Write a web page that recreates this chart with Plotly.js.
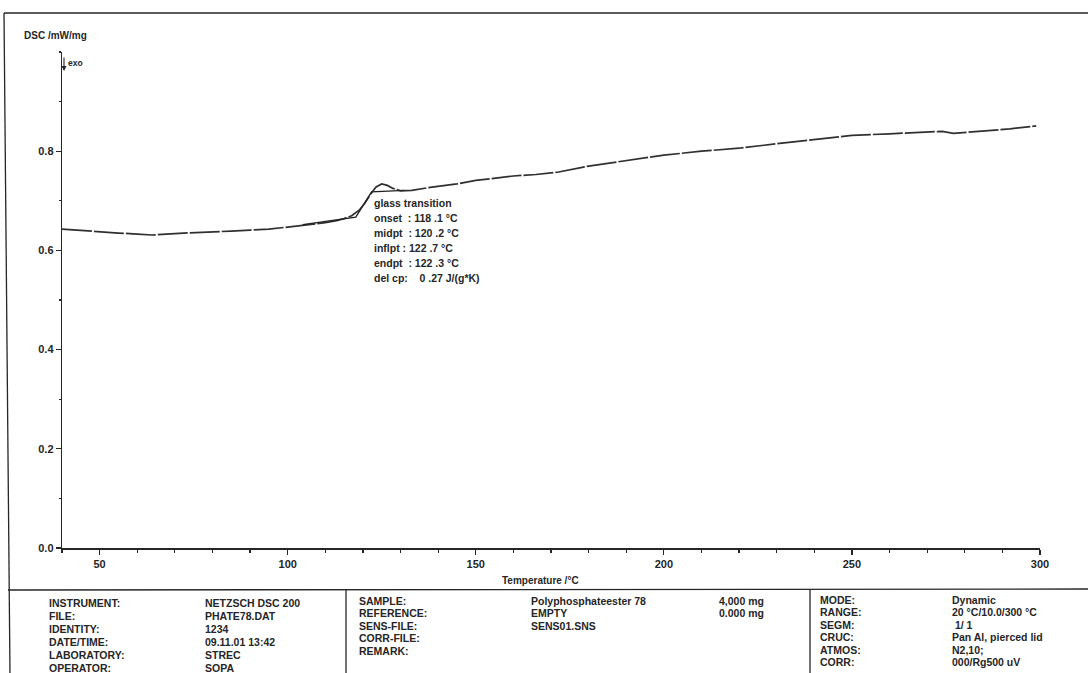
<!DOCTYPE html>
<html>
<head>
<meta charset="utf-8">
<script src="https://cdn.plot.ly/plotly-3.0.1.min.js"></script>
<style>html,body{margin:0;padding:0;background:#fff;}#chart{width:1088px;height:673px;}</style>
</head>
<body>
<div id="chart"></div>
<script>
// ---- data ----
const tempC = [40, 45, 50, 55, 60, 64, 70, 77, 85, 90, 95, 100, 105, 110, 113, 115, 117, 119, 120.5, 122, 123.5, 125, 126.5, 128, 130, 133, 137, 141, 145, 150, 155, 160, 166, 172, 180, 190, 200, 210, 220, 230, 240, 250, 260, 270, 274, 277, 285, 292, 299];
const dscValue = [0.643, 0.640, 0.637, 0.635, 0.633, 0.631, 0.634, 0.637, 0.639, 0.641, 0.643, 0.647, 0.651, 0.656, 0.660, 0.664, 0.670, 0.681, 0.695, 0.713, 0.728, 0.734, 0.731, 0.725, 0.720, 0.721, 0.726, 0.730, 0.734, 0.741, 0.745, 0.750, 0.753, 0.758, 0.770, 0.781, 0.792, 0.800, 0.806, 0.815, 0.824, 0.832, 0.835, 0.838, 0.840, 0.836, 0.840, 0.845, 0.851];
const tangentT = [104, 118.1, 122.3, 131];
const tangentV = [0.652, 0.667, 0.718, 0.721];
const xTickVals = [50, 100, 150, 200, 250, 300];
const yTickVals = [0.0, 0.2, 0.4, 0.6, 0.8];
const yTickText = ['0.0', '0.2', '0.4', '0.6', '0.8'];
const glassLines = ['glass transition', 'onset\u00A0\u00A0: 118 .1 °C', 'midpt\u00A0\u00A0: 120 .2 °C', 'inflpt : 122 .7 °C', 'endpt\u00A0\u00A0: 122 .3 °C', 'del cp:\u00A0\u00A0\u00A0 0 .27 J/(g*K)'];
const col1Labels = ['INSTRUMENT:', 'FILE:', 'IDENTITY:', 'DATE/TIME:', 'LABORATORY:', 'OPERATOR:'];
const col1Values = ['NETZSCH DSC 200', 'PHATE78.DAT', '1234', '09.11.01 13:42', 'STREC', 'SOPA'];
const col2Labels = ['SAMPLE:', 'REFERENCE:', 'SENS-FILE:', 'CORR-FILE:', 'REMARK:'];
const col2Values = ['Polyphosphateester 78', 'EMPTY', 'SENS01.SNS', '', ''];
const col2Mass = ['4,000 mg', '0.000 mg'];
const col3Labels = ['MODE:', 'RANGE:', 'SEGM:', 'CRUC:', 'ATMOS:', 'CORR:'];
const col3Values = ['Dynamic', '20 °C/10.0/300 °C', ' 1/ 1', 'Pan Al, pierced lid', 'N2,10;', '000/Rg500 uV'];

// ---- layout helpers (pixel -> paper) ----
const W = 1088, H = 673, L = 62, R = 48, T = 52, B = 125;
const pw = W - L - R, ph = H - T - B;
const px = x => (x - L) / pw;
const py = y => (H - B - y) / ph;
const ink = '#262626';
const FF = 'Liberation Sans, Arial, sans-serif';
const fnt = (s) => ({family: FF, size: s, color: ink, weight: 'bold'});

const annotations = [];
function txt(x, y, s, size, anchor) {
  annotations.push({xref: 'paper', yref: 'paper', x: px(x), y: py(y), text: s, showarrow: false,
    xanchor: anchor || 'left', yanchor: 'middle', font: fnt(size)});
}
txt(22, 35, 'DSC /mW/mg', 10);
txt(66, 63, 'exo', 8.5);
annotations.push({xref: 'paper', yref: 'paper', x: px(64), y: py(71), ax: 0, ay: -15, showarrow: true,
  arrowhead: 2, arrowsize: 0.9, arrowwidth: 1.1, arrowcolor: ink, text: ''});
txt(540, 580, 'Temperature /°C', 10, 'center');
glassLines.forEach((s, i) => txt(372, 203 + i * 15, s, 10.5));
const row1 = i => 603 + i * 12.9;
const row2 = i => 601 + i * 12.4;
const row3 = i => 600 + i * 12.4;
col1Labels.forEach((s, i) => txt(47, row1(i), s, 10.5));
col1Values.forEach((s, i) => txt(203, row1(i), s, 10.5));
col2Labels.forEach((s, i) => txt(357, row2(i), s, 10.5));
col2Values.forEach((s, i) => { if (s) txt(529, row2(i), s, 10.5); });
col2Mass.forEach((s, i) => txt(717, row2(i), s, 10.5));
col3Labels.forEach((s, i) => txt(818, row3(i), s, 10.5));
col3Values.forEach((s, i) => txt(950, row3(i), s, 10.5));

const line = (x0, y0, x1, y1, w) => ({type: 'line', xref: 'paper', yref: 'paper',
  x0: px(x0), y0: py(y0), x1: px(x1), y1: py(y1), line: {color: ink, width: w || 1.3}});
const shapes = [
  line(4, 13, 1090, 13),
  line(4, 13, 10, 675),
  line(8, 590, 1090, 589),
  line(346, 590, 346, 675),
  line(810, 590, 810, 675)
];

const traces = [
  {x: tempC, y: dscValue, type: 'scatter', mode: 'lines', line: {color: '#303030', width: 1.7, dash: '30px,2px'}, hoverinfo: 'skip'},
  {x: tangentT, y: tangentV, type: 'scatter', mode: 'lines', line: {color: '#222', width: 1.3}, hoverinfo: 'skip'}
];

const layout = {
  width: W, height: H, margin: {l: L, r: R, t: T, b: B},
  paper_bgcolor: '#fff', plot_bgcolor: '#fff', showlegend: false,
  xaxis: {range: [40, 300], tickvals: xTickVals, ticks: 'outside', ticklen: 5, tickwidth: 1.2, tickcolor: ink,
    showline: true, linecolor: ink, linewidth: 1.6, showgrid: false, zeroline: false, tickfont: fnt(11),
    minor: {dtick: 10, tick0: 40, ticks: 'outside', ticklen: 3, tickcolor: ink, showgrid: false}},
  yaxis: {range: [0, 1.0], tickvals: yTickVals, ticktext: yTickText, ticks: 'outside', ticklen: 5, tickwidth: 1.2, tickcolor: ink,
    showline: true, linecolor: ink, linewidth: 1.3, showgrid: false, zeroline: false, tickfont: fnt(11),
    minor: {dtick: 0.1, tick0: 0, ticks: 'outside', ticklen: 2, tickcolor: ink, showgrid: false}},
  annotations: annotations, shapes: shapes
};
Plotly.newPlot('chart', traces, layout, {staticPlot: true, displayModeBar: false});
</script>
</body>
</html>
